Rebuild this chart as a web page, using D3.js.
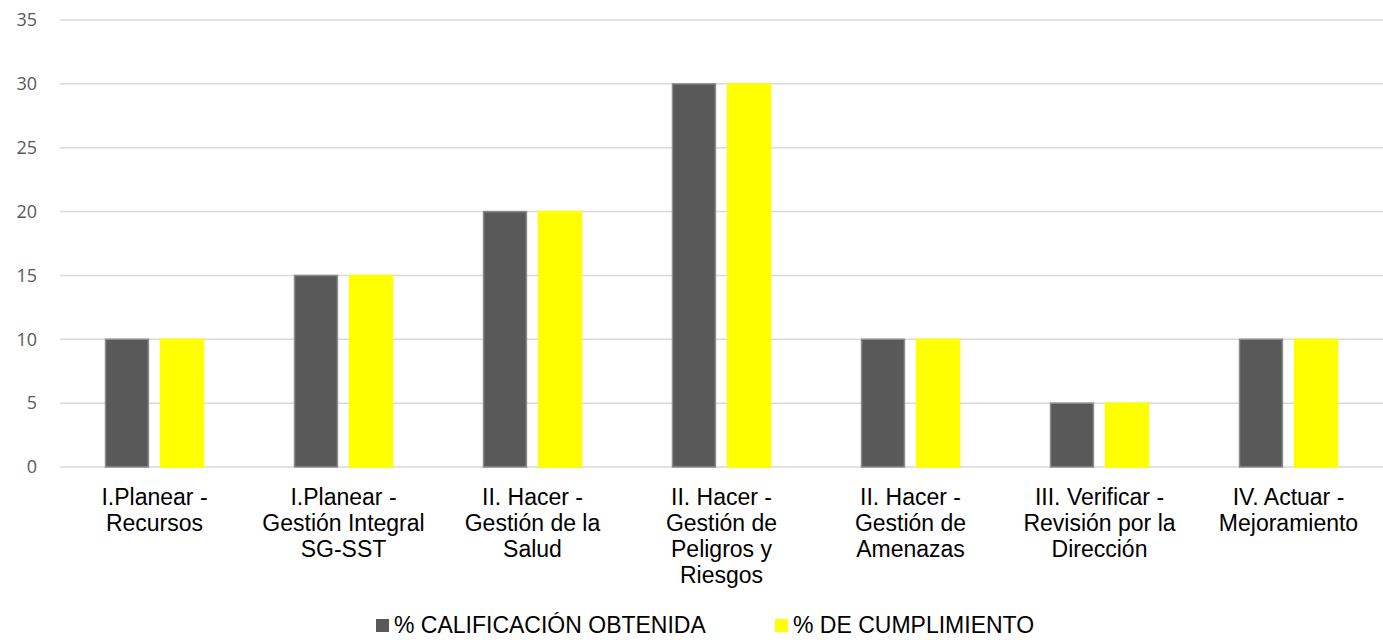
<!DOCTYPE html>
<html>
<head>
<meta charset="utf-8">
<script src="https://cdn.jsdelivr.net/npm/d3@7"></script>
<style>
  body { margin: 0; background: #fff; }
</style>
</head>
<body>
<svg id="chart" width="1383" height="640"></svg>
<script>
// data
var categories = [
    ["I.Planear -", "Recursos"],
    ["I.Planear -", "Gestión Integral", "SG-SST"],
    ["II. Hacer -", "Gestión de la", "Salud"],
    ["II. Hacer -", "Gestión de", "Peligros y", "Riesgos"],
    ["II. Hacer -", "Gestión de", "Amenazas"],
    ["III. Verificar -", "Revisión por la", "Dirección"],
    ["IV. Actuar -", "Mejoramiento"]
];
var calificacion = [10, 15, 20, 30, 10, 5, 10];
var cumplimiento = [10, 15, 20, 30, 10, 5, 10];
var seriesNames = ["% CALIFICACIÓN OBTENIDA", "% DE CUMPLIMIENTO"];
var yTicks = [0, 5, 10, 15, 20, 25, 30, 35];

var svg = d3.select("#chart"),
    m = { left: 60, right: 1383, top: 20, bottom: 467 },
    groupW = 98;

var x = d3.scaleBand()
    .domain(d3.range(categories.length))
    .range([m.left, m.right]);

var inner = d3.scaleBand()
    .domain([0, 1])
    .range([0, groupW])
    .paddingInner(0.22);

var y = d3.scaleLinear().domain([0, 35]).range([m.bottom, m.top]);

// gridlines
svg.append("g").selectAll("line")
    .data(yTicks)
    .enter().append("line")
    .attr("x1", m.left).attr("x2", m.right)
    .attr("y1", d => y(d)).attr("y2", d => y(d))
    .attr("stroke", "#d9d9d9")
    .attr("stroke-width", 1.5);

// y axis labels
var yAxis = d3.axisLeft(y).tickValues(yTicks).tickSize(0).tickPadding(23);
var yg = svg.append("g").attr("transform", "translate(" + m.left + ",0)").call(yAxis);
yg.select(".domain").remove();
yg.selectAll("text")
    .attr("fill", "#595959")
    .style("font-family", "'Open Sans', sans-serif")
    .style("font-size", "18px");

var series = [
    { vals: calificacion, fill: "#595959", stroke: "#8c8c8c" },
    { vals: cumplimiento, fill: "#ffff00", stroke: "#ffff00" }
];

series.forEach((s, si) => {
    svg.append("g").selectAll("rect")
        .data(s.vals)
        .enter().append("rect")
        .attr("x", (d, i) => x(i) + (x.bandwidth() - groupW) / 2 + inner(si))
        .attr("width", inner.bandwidth())
        .attr("y", d => y(d))
        .attr("height", d => y(0) - y(d))
        .attr("fill", s.fill)
        .attr("stroke", s.stroke)
        .attr("stroke-width", 1.5);
});

// category labels
var cg = svg.append("g");
categories.forEach((lines, i) => {
    var cx = x(i) + x.bandwidth() / 2;
    var t = cg.append("text")
        .attr("x", cx)
        .attr("y", 505)
        .attr("text-anchor", "middle")
        .attr("fill", "#000")
        .style("font-family", "'Liberation Sans', Arial, sans-serif")
        .style("font-size", "23px");
    lines.forEach((l, j) => {
        t.append("tspan")
            .attr("x", cx)
            .attr("dy", j === 0 ? 0 : 26)
            .text(l);
    });
});

// legend
var legendX = [376, 775];
seriesNames.forEach((n, i) => {
    var lg = svg.append("g").attr("transform", "translate(" + legendX[i] + ",619)");
    lg.append("rect").attr("width", 13).attr("height", 13)
        .attr("fill", series[i].fill);
    lg.append("text")
        .attr("x", 18).attr("y", 14)
        .attr("fill", "#000")
        .style("font-family", "'Liberation Sans', Arial, sans-serif")
        .style("font-size", "23px")
        .text(n);
});
</script>
</body>
</html>
